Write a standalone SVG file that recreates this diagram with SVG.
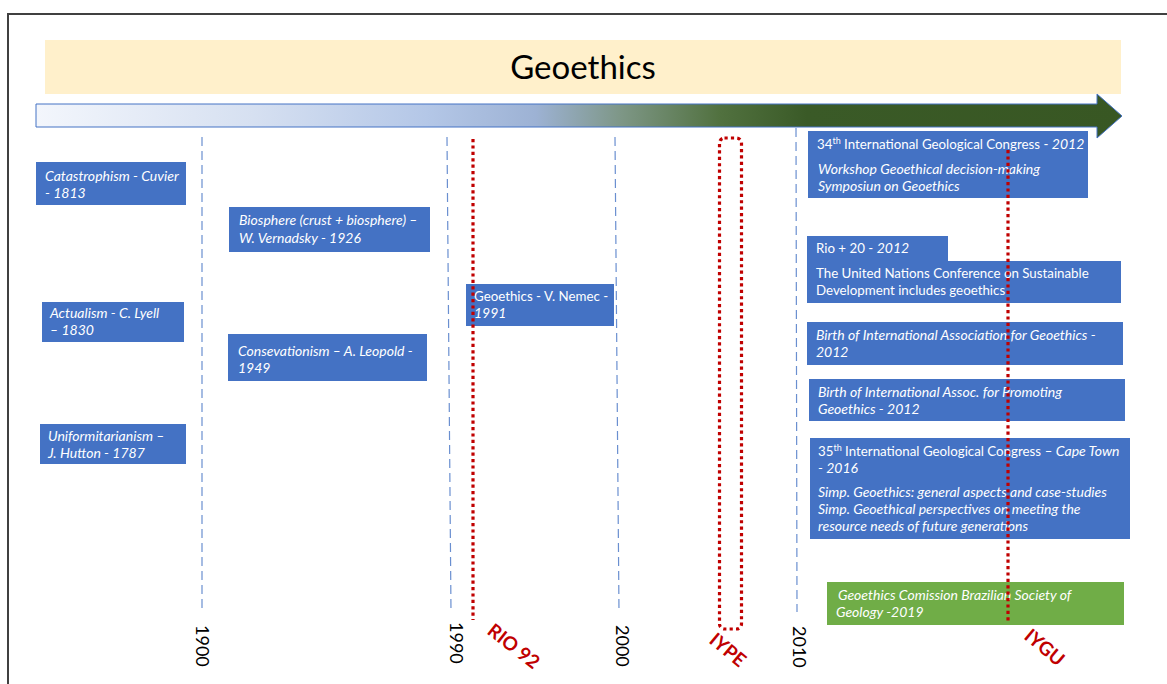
<svg xmlns="http://www.w3.org/2000/svg" width="1167" height="684" viewBox="0 0 1167 684">
<defs>
<linearGradient id="grad" gradientUnits="userSpaceOnUse" x1="36" y1="0" x2="1122" y2="0">
<stop offset="0" stop-color="#F3F6FC"/>
<stop offset="0.2" stop-color="#D6E0F1"/>
<stop offset="0.36" stop-color="#B4C7E7"/>
<stop offset="0.46" stop-color="#9DB2D4"/>
<stop offset="0.54" stop-color="#7D9685"/>
<stop offset="0.63" stop-color="#51713F"/>
<stop offset="0.71" stop-color="#3A5A27"/>
<stop offset="1" stop-color="#385723"/>
</linearGradient>
<style>
.box{fill:#4472C4;}
.green{fill:#70AD47;}
.t{font-family:Lato,"Liberation Sans",sans-serif;font-size:13.3px;fill:#FFFFFF;}
.i{font-style:italic;font-size:14px;}
.year{font-family:Lato,"Liberation Sans",sans-serif;font-size:18px;fill:#000000;}
.red{font-family:Lato,"Liberation Sans",sans-serif;font-size:19px;font-weight:bold;fill:#C00000;}
.dash{stroke:#6A8FD0;stroke-width:1.2;stroke-dasharray:9 5;fill:none;}
.dot{stroke:#C00000;stroke-width:3.2;stroke-dasharray:3.2 3.2;fill:none;}
.sup{font-size:9px;}
</style>
</defs>
<rect x="0" y="0" width="1167" height="684" fill="#FFFFFF"/>
<path d="M8,684 V14 H1167" fill="none" stroke="#404040" stroke-width="2"/>
<g id="banner">
<rect x="45" y="40" width="1076" height="54" fill="#FFF0CB"/>
<text x="583" y="79" text-anchor="middle" font-family="Lato,'Liberation Sans',sans-serif" font-size="33" fill="#000000">Geoethics</text>
</g>
<g id="timeline-arrow">
<path d="M36,104 H1097 V94 L1122,116 L1097,138 V127 H36 Z" fill="url(#grad)" stroke="#4472C4" stroke-width="1"/>
</g>
<g id="connectors">
<line class="dash" x1="202" y1="137" x2="202" y2="612"/>
<line class="dash" x1="447" y1="137" x2="451" y2="612"/>
<line class="dash" x1="615" y1="137" x2="619" y2="612"/>
<line class="dash" x1="796" y1="128" x2="797" y2="612"/>
</g>
<g id="labels-years">
<text class="year" transform="translate(196,625) rotate(90)">1900</text>
<text class="year" transform="translate(450,622) rotate(90)">1990</text>
<text class="year" transform="translate(616,625) rotate(90)">2000</text>
<text class="year" transform="translate(793,626) rotate(90)">2010</text>
</g>
<g id="labels-events">
<text class="red" transform="translate(486,633) rotate(38)">RIO 92</text>
<text class="red" transform="translate(708,642) rotate(40)">IYPE</text>
<text class="red" transform="translate(1023,638) rotate(40)">IYGU</text>
</g>
<g id="catastrophism">
<rect class="box" x="36" y="162" width="150" height="43"/>
<text class="t i" x="45" y="181">Catastrophism - Cuvier</text>
<text class="t i" x="45" y="198">- 1813</text>
</g>
<g id="biosphere">
<rect class="box" x="229" y="207" width="201" height="45"/>
<text class="t i" x="239" y="225">Biosphere (crust + biosphere) –</text>
<text class="t i" x="239" y="243">W. Vernadsky - 1926</text>
</g>
<g id="actualism">
<rect class="box" x="42" y="302" width="142" height="40"/>
<text class="t i" x="50" y="318">Actualism - C. Lyell</text>
<text class="t i" x="50" y="335">– 1830</text>
</g>
<g id="conservationism">
<rect class="box" x="228" y="334" width="199" height="47"/>
<text class="t i" x="238" y="356">Consevationism  – A. Leopold -</text>
<text class="t i" x="238" y="373">1949</text>
</g>
<g id="uniformitarianism">
<rect class="box" x="40" y="424" width="146" height="40"/>
<text class="t i" x="48" y="441">Uniformitarianism –</text>
<text class="t i" x="48" y="458">J. Hutton - 1787</text>
</g>
<g id="nemec">
<rect class="box" x="466" y="284" width="148" height="42"/>
<text class="t" x="474" y="301">Geoethics - V. Nemec -</text>
<text class="t i" x="474" y="318">1991</text>
</g>
<g id="igc34">
<rect class="box" x="808" y="131" width="280" height="67"/>
<text class="t" x="817" y="149">34<tspan class="sup" dy="-5">th</tspan><tspan dy="5"> International Geological Congress - </tspan><tspan class="i">2012</tspan></text>
<text class="t i" x="818" y="174">Workshop Geoethical decision-making</text>
<text class="t i" x="818" y="191">Symposiun on Geoethics</text>
</g>
<g id="rio20">
<rect class="box" x="807" y="236" width="141" height="30"/>
<rect class="box" x="807" y="261" width="314" height="42"/>
<text class="t" x="816" y="253">Rio + 20 - <tspan class="i">2012</tspan></text>
<text class="t" x="816" y="278">The United Nations Conference on Sustainable</text>
<text class="t" x="816" y="295">Development includes geoethics</text>
</g>
<g id="iageth">
<rect class="box" x="807" y="322" width="316" height="43"/>
<text class="t i" x="816" y="340">Birth of International Association for Geoethics -</text>
<text class="t i" x="816" y="357">2012</text>
</g>
<g id="iapg">
<rect class="box" x="809" y="379" width="316" height="42"/>
<text class="t i" x="818" y="397">Birth of International Assoc. for Promoting</text>
<text class="t i" x="818" y="414">Geoethics - 2012</text>
</g>
<g id="igc35">
<rect class="box" x="810" y="438" width="320" height="101"/>
<text class="t" x="818" y="456">35<tspan class="sup" dy="-5">th</tspan><tspan dy="5"> International Geological Congress  </tspan><tspan class="i">– Cape Town</tspan></text>
<text class="t i" x="818" y="473">- 2016</text>
<text class="t i" x="818" y="497">Simp. Geoethics: general aspects and case-studies</text>
<text class="t i" x="818" y="514">Simp. Geoethical perspectives on meeting the</text>
<text class="t i" x="818" y="531">resource needs of future generations</text>
</g>
<g id="sbg">
<rect class="green" x="827" y="582" width="297" height="43"/>
<text class="t i" x="838" y="600"> Geoethics Comission Brazilian  Society of</text>
<text class="t i" x="836" y="617">Geology -2019</text>
</g>
<g id="event-markers">
<line class="dot" x1="473" y1="139" x2="473" y2="620"/>
<rect class="dot" x="719.5" y="138" width="22" height="491" rx="5"/>
<line class="dot" x1="1008" y1="150" x2="1008" y2="623"/>
</g>
</svg>
